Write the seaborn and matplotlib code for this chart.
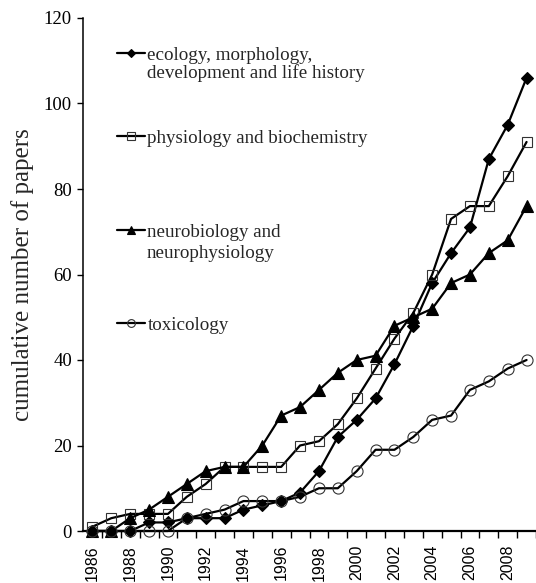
import numpy as np
import pandas as pd
import matplotlib
matplotlib.use("Agg")
import matplotlib.pyplot as plt
from matplotlib.ticker import MultipleLocator, FixedLocator
from matplotlib.lines import Line2D
from matplotlib.legend import Legend
import seaborn as sns

years = list(range(1986, 2010))
ecology = [0, 0, 0, 2, 2, 3, 3, 3, 5, 6, 7, 9, 14, 22, 26, 31, 39, 48, 58, 65, 71, 87, 95, 106]
physiology = [1, 3, 4, 4, 4, 8, 11, 15, 15, 15, 15, 20, 21, 25, 31, 38, 45, 51, 60, 73, 76, 76, 83, 91]
neuro = [0, 0, 3, 5, 8, 11, 14, 15, 15, 20, 27, 29, 33, 37, 40, 41, 48, 50, 52, 58, 60, 65, 68, 76]
toxicology = [0, 0, 0, 0, 0, 3, 4, 5, 7, 7, 7, 8, 10, 10, 14, 19, 19, 22, 26, 27, 33, 35, 38, 40]

labels_first = ["ecology, morphology,", "physiology and biochemistry",
                "neurobiology and", "toxicology"]
labels_second = ["development and life history", None, "neurophysiology", None]

sns.set_theme(style="white")
plt.rcParams["font.family"] = ["Liberation Serif", "DejaVu Serif"]

W, H = 536, 583
fig = plt.figure(figsize=(W / 100, H / 100), dpi=100)
ax_left, ax_right, ax_top, ax_bot = 83, 536, 18, 531
ax = fig.add_axes([ax_left / W, (H - ax_bot) / H, (ax_right - ax_left) / W, (ax_bot - ax_top) / H])

styles = [
    dict(marker="D", markersize=6.0, mfc="black", mec="black", mew=0.8),
    dict(marker="s", markersize=7.5, mfc="none", mec="#333333", mew=0.8),
    dict(marker="^", markersize=8.0, mfc="black", mec="black", mew=0.8),
    dict(marker="o", markersize=8.0, mfc="none", mec="#333333", mew=0.8),
]
series = [ecology, physiology, neuro, toxicology]

for vals, st in zip(series, styles):
    df = pd.DataFrame({"year": years, "n": vals})
    sns.lineplot(data=df, x="year", y="n", ax=ax, color="black", linewidth=1.6,
                 clip_on=False, zorder=3, **st)

ax.set_xlim(1985.5, 2009.5)
ax.set_ylim(0, 120)

ax.spines["top"].set_visible(False)
ax.spines["right"].set_visible(False)
ax.spines["left"].set_linewidth(1.1)
ax.spines["bottom"].set_linewidth(1.6)
ax.spines["left"].set_color("black")
ax.spines["bottom"].set_color("black")

ax.yaxis.set_major_locator(MultipleLocator(20))
ax.tick_params(axis="y", which="major", direction="out", length=4, width=1,
               color="black", left=True, labelsize=13.5, pad=4, labelcolor="black")
for t in ax.get_yticklabels():
    t.set_fontfamily("Liberation Serif")

ax.xaxis.set_major_locator(MultipleLocator(2))
ax.xaxis.set_minor_locator(FixedLocator(np.arange(1986.5, 2010, 1.0)))
ax.tick_params(axis="x", which="major", length=0, pad=10, labelsize=11.5,
               labelrotation=90, labelcolor="black")
ax.tick_params(axis="x", which="minor", direction="out", length=5, width=1,
               color="black", bottom=True)
ax.set_xticks(list(range(1986, 2010, 2)))
ax.set_xticklabels([str(y) for y in range(1986, 2010, 2)], family="Liberation Sans")

ax.set_xlabel("")
ax.set_ylabel("cumulative number of papers", fontsize=18, family="Liberation Serif")
ax.yaxis.set_label_coords(-0.108, 0.5)

# legends
leg_y_px = [55, 138, 232, 325]
second_y_px = [73, None, 254, None]
hx = (117 - ax_left) / (ax_right - ax_left)
tx = (147 - ax_left) / (ax_right - ax_left)
fs = 13.7
for lab1, lab2, st, py, py2 in zip(labels_first, labels_second, styles, leg_y_px, second_y_px):
    st2 = dict(st)
    st2["markersize"] = st["markersize"] * 0.7
    h = Line2D([], [], color="black", linewidth=1.6, **st2)
    leg = Legend(ax, [h], [lab1], loc="center left",
                 bbox_to_anchor=(hx, (ax_bot - py) / (ax_bot - ax_top)),
                 bbox_transform=ax.transAxes,
                 frameon=False, borderpad=0, borderaxespad=0, handlelength=1.45,
                 handletextpad=0.15, prop={"family": "Liberation Serif", "size": fs})
    ax.add_artist(leg)
    if lab2:
        ax.text(tx, (ax_bot - py2) / (ax_bot - ax_top), lab2, transform=ax.transAxes,
                ha="left", va="center", fontsize=fs, family="Liberation Serif")

fig.savefig("out.png", dpi=100)
